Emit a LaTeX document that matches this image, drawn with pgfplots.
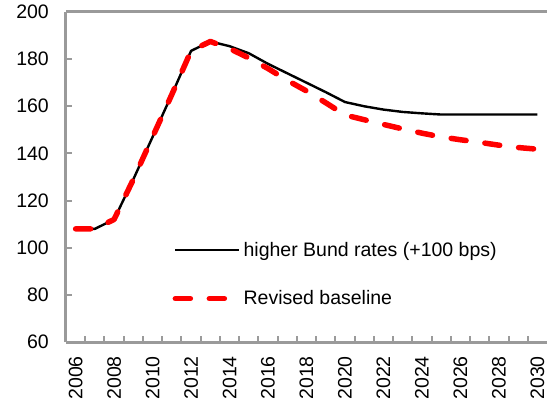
\documentclass[border=0pt]{standalone}
\usepackage{fontspec}
\setmainfont{Liberation Sans}
\usepackage{pgfplots}
\pgfplotsset{compat=1.18}

\definecolor{spine}{HTML}{9A9A9A}

\begin{document}
\begin{tikzpicture}
\useasboundingbox (-66bp,-60bp) rectangle (481bp,342bp);
\begin{axis}[
    at={(0,0)}, anchor=south west,
    scale only axis,
    width=481bp, height=330bp,
    xmin=2005.5, xmax=2030.5,
    ymin=60, ymax=200,
    axis x line*=bottom,
    axis y line*=left,
    axis line style={draw=spine, line width=3bp, -},
    xtick={2006,2008,...,2030},
    minor xtick={2006.5,2007.5,...,2029.5},
    ytick={60,80,...,200},
    tick align=inside,
    major x tick style={draw=none},
    minor x tick style={draw=spine, line width=2bp},
    minor tick length=6bp,
    major tick length=6bp,
    y tick style={draw=spine, line width=2bp},
    /pgf/number format/assume math mode=true,
    /pgf/number format/1000 sep={},
    tick label style={font=\fontsize{19.5bp}{22bp}\selectfont, text=black},
    xticklabel style={rotate=90, anchor=east, inner sep=0pt},
    xticklabel shift=14bp,
    yticklabel style={anchor=east, inner sep=0pt},
    yticklabel shift=17bp,
    clip=false,
    legend cell align=left,
    legend style={draw=none, fill=none, at={(rel axis cs:0.215,0.205)}, anchor=west,
        font=\fontsize{19.5bp}{22bp}\selectfont, row sep=30bp,
        nodes={inner sep=1.5bp}},
    legend image code/.code={\draw[#1] (0bp,0bp) -- (64bp,0bp);},
]
\addplot[black, line width=2.4bp, line join=round] coordinates {
(2006,108) (2007,108) (2008,112) (2009,129) (2010,147) (2011,165)
(2012,183.5) (2013,187.5) (2014,185.5) (2015,182.5) (2016,178)
(2017,174) (2018,170) (2019,166) (2020,161.8) (2021,160) (2022,158.6)
(2023,157.6) (2024,157) (2025,156.5) (2026,156.5) (2027,156.5)
(2028,156.5) (2029,156.5) (2030,156.5)
};
\addlegendentry{higher Bund rates (+100 bps)}
\addplot[red, line width=5.5bp, line cap=round, line join=round,
    dash pattern=on 15bp off 19bp] coordinates {
(2006,108) (2007,108) (2008,112) (2009,129) (2010,147) (2011,165)
(2012,183.5) (2013,187.5) (2014,184.5) (2015,180.5) (2016,176)
(2017,171) (2018,166.5) (2019,161.5) (2020,156.3) (2021,154.3)
(2022,152.3) (2023,150.4) (2024,148.6) (2025,147) (2026,145.8)
(2027,144.7) (2028,143.5) (2029,142.5) (2030,141.8)
};
\addlegendentry{Revised baseline}
\draw[spine, line width=3bp] (rel axis cs:0,1) -- (rel axis cs:1,1);
\end{axis}
\end{tikzpicture}
\end{document}
